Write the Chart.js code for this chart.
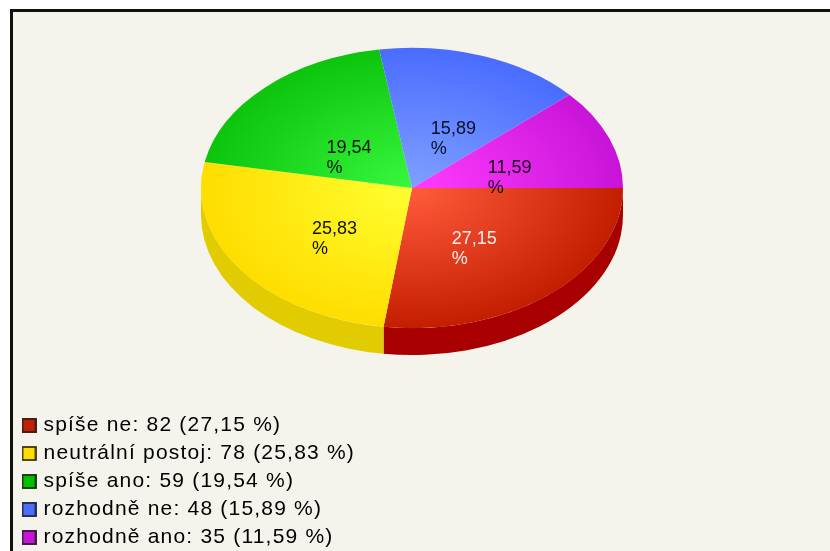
<!DOCTYPE html>
<html><head><meta charset="utf-8">
<script src="https://cdn.jsdelivr.net/npm/chart.js@4"></script>
<style>
html,body{margin:0;padding:0;background:#fff;width:830px;height:551px;overflow:hidden}
#frame{position:absolute;left:10px;top:9px;width:820px;height:542px;box-sizing:border-box;border-left:3px solid #111;border-top:3px solid #111;background:#f5f4ec}
#wrap{position:absolute;left:0;top:0;width:830px;height:551px;filter:blur(0.7px)}
</style></head><body>
<div id="frame"></div>
<div id="wrap"><canvas id="c" width="830" height="551"></canvas></div>
<script>
const categories = ['spíše ne','neutrální postoj','spíše ano','rozhodně ne','rozhodně ano'];
const counts = [82,78,59,48,35];
const percents = ['27,15','25,83','19,54','15,89','11,59'];
const baseColors = ['#c41e00','#ffdd00','#0cc40c','#4a6cff','#c814d8'];
const lightColors = ['#ff5c3c','#ffff30','#38f83e','#7fa0ff','#ff3cff'];
const sideColors = ['#a80000','#e0cc00','#0a9a0a','#3a55cc','#9c10a8'];
const swatchColors = ['#c41e00','#ffdd00','#00c000','#4a6cff','#c814d8'];
const labelColors = ['#ffeeee','#111100','#001100','#0a1028','#180018'];

const RATIO = 0.664, CY = 188, DEPTH = 27;
const labelNudge = [[-3,-2],[3,0],[6,4],[8,0],[5,0]];

function swatch(fill){
  const s = document.createElement('canvas'); s.width = 15; s.height = 15;
  const g = s.getContext('2d');
  g.fillStyle = fill; g.fillRect(0,0,15,15);
  g.strokeStyle = '#222'; g.lineWidth = 1.6; g.strokeRect(1,1,13,13);
  return s;
}
const swatches = swatchColors.map(swatch);

const squash = {
  id:'squash',
  beforeDraw(chart){ chart.ctx.letterSpacing = '1.2px'; },
  afterLayout(chart){
    const l = chart.legend;
    l.left = 18; l.top = 408; l.right = 830; l.bottom = 640;
  },
  beforeDatasetsDraw(chart){
    const ctx = chart.ctx, a = chart.chartArea, cy = (a.top+a.bottom)/2;
    ctx.letterSpacing = '0px';
    ctx.save();
    ctx.translate(0,CY); ctx.scale(1,RATIO); ctx.translate(0,-cy);
    const d = DEPTH/RATIO;
    chart.getDatasetMeta(0).data.forEach((el,i)=>{
      const p = el.getProps(['x','y','startAngle','endAngle','outerRadius'],true);
      const s = Math.max(p.startAngle,0), e = Math.min(p.endAngle,Math.PI);
      if (e <= s) return;
      ctx.beginPath();
      ctx.arc(p.x,p.y,p.outerRadius,s,e);
      ctx.arc(p.x,p.y+d,p.outerRadius,e,s,true);
      ctx.closePath();
      ctx.fillStyle = sideColors[i];
      ctx.fill();
    });
  },
  afterDatasetsDraw(chart){
    const ctx = chart.ctx;
    ctx.restore();
    ctx.font = '18px "Liberation Sans"';
    ctx.textBaseline = 'middle'; ctx.textAlign = 'left';
    chart.getDatasetMeta(0).data.forEach((el,i)=>{
      const p = el.getProps(['x','y','startAngle','endAngle','outerRadius'],true);
      const m = (p.startAngle+p.endAngle)/2;
      const x = p.x + 0.47*p.outerRadius*Math.cos(m) + labelNudge[i][0];
      const y = CY + 0.47*p.outerRadius*RATIO*Math.sin(m) + 12 + labelNudge[i][1];
      const w = ctx.measureText(percents[i]).width;
      ctx.fillStyle = labelColors[i];
      ctx.fillText(percents[i], x-w/2, y-9);
      ctx.fillText('%', x-w/2, y+11);
    });
  }
};

new Chart(document.getElementById('c'),{
  type:'pie',
  data:{labels:categories,datasets:[{
    data:counts,
    borderWidth:0,
    backgroundColor(c){
      const a = c.chart.chartArea;
      if(!a) return baseColors[c.dataIndex];
      const x=(a.left+a.right)/2,y=(a.top+a.bottom)/2,r=(a.right-a.left)/2;
      const g = c.chart.ctx.createRadialGradient(x,y,0,x,y,r);
      g.addColorStop(0,lightColors[c.dataIndex]);
      g.addColorStop(1,baseColors[c.dataIndex]);
      return g;
    }
  }]},
  options:{
    responsive:false,animation:false,
    rotation:90,
    layout:{padding:{left:201,right:207,top:0,bottom:129}},
    plugins:{
      tooltip:{enabled:false},
      legend:{
        position:'chartArea',align:'start',
        labels:{
          usePointStyle:true,pointStyleWidth:8,padding:7,
          color:'#3a3a3a',
          font:{family:'"Liberation Sans"',size:21},
          generateLabels(){
            return categories.map((n,i)=>({
              text:`${n}: ${counts[i]} (${percents[i]} %)`,
              pointStyle:swatches[i],fillStyle:swatchColors[i],strokeStyle:'#222',lineWidth:1,index:i,hidden:false
            }));
          }
        }
      }
    }
  },
  plugins:[squash]
});
</script>
</body></html>
